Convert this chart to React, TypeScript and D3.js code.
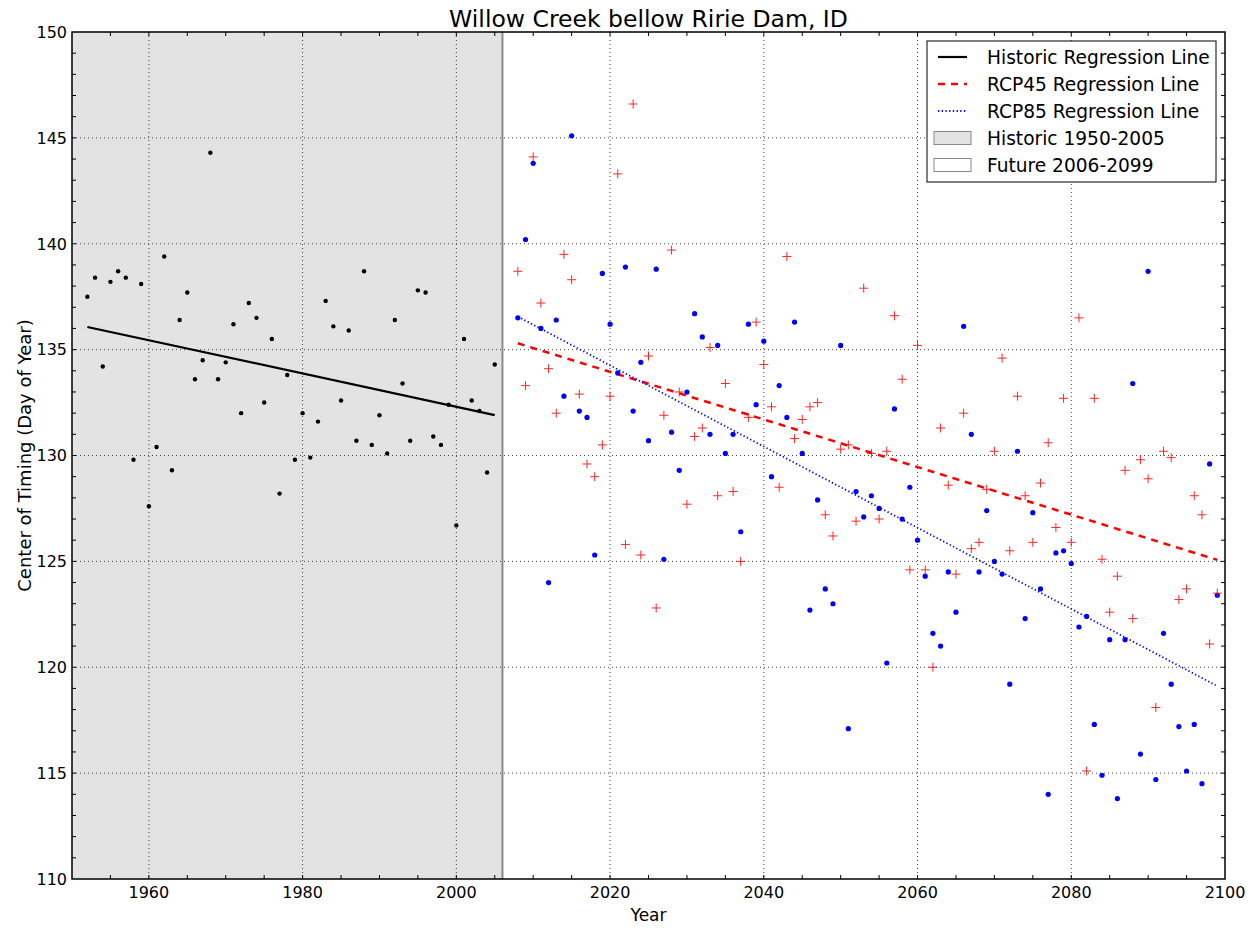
import React from 'react';
import * as d3 from 'd3';

// ---------- DATA ----------
const historicStartYear = 1952;
const historicValues = [
  137.5, 138.4, 134.2, 138.2, 138.7, 138.4, 129.8, 138.1, 127.6, 130.4,
  139.4, 129.3, 136.4, 137.7, 133.6, 134.5, 144.3, 133.6, 134.4, 136.2,
  132.0, 137.2, 136.5, 132.5, 135.5, 128.2, 133.8, 129.8, 132.0, 129.9,
  131.6, 137.3, 136.1, 132.6, 135.9, 130.7, 138.7, 130.5, 131.9, 130.1,
  136.4, 133.4, 130.7, 137.8, 137.7, 130.9, 130.5, 132.4, 126.7, 135.5,
  132.6, 132.1, 129.2, 134.3,
];

const futureStartYear = 2008;
const rcp45Values = [
  138.7, 133.3, 144.1, 137.2, 134.1, 132.0, 139.5, 138.3, 132.9, 129.6,
  129.0, 130.5, 132.8, 143.3, 125.8, 146.6, 125.3, 134.7, 122.8, 131.9,
  139.7, 133.0, 127.7, 130.9, 131.3, 135.1, 128.1, 133.4, 128.3, 125.0,
  131.8, 136.3, 134.3, 132.3, 128.5, 139.4, 130.8, 131.7, 132.3, 132.5,
  127.2, 126.2, 130.3, 130.5, 126.9, 137.9, 130.1, 127.0, 130.2, 136.6,
  133.6, 124.6, 135.2, 124.6, 120.0, 131.3, 128.6, 124.4, 132.0, 125.6,
  125.9, 128.4, 130.2, 134.6, 125.5, 132.8, 128.1, 125.9, 128.7, 130.6,
  126.6, 132.7, 125.9, 136.5, 115.1, 132.7, 125.1, 122.6, 124.3, 129.3,
  122.3, 129.8, 128.9, 118.1, 130.2, 129.9, 123.2, 123.7, 128.1, 127.2,
  121.1, 123.5,
];
const rcp85Values = [
  136.5, 140.2, 143.8, 136.0, 124.0, 136.4, 132.8, 145.1, 132.1, 131.8,
  125.3, 138.6, 136.2, 133.9, 138.9, 132.1, 134.4, 130.7, 138.8, 125.1,
  131.1, 129.3, 133.0, 136.7, 135.6, 131.0, 135.2, 130.1, 131.0, 126.4,
  136.2, 132.4, 135.4, 129.0, 133.3, 131.8, 136.3, 130.1, 122.7, 127.9,
  123.7, 123.0, 135.2, 117.1, 128.3, 127.1, 128.1, 127.5, 120.2, 132.2,
  127.0, 128.5, 126.0, 124.3, 121.6, 121.0, 124.5, 122.6, 136.1, 131.0,
  124.5, 127.4, 125.0, 124.4, 119.2, 130.2, 122.3, 127.3, 123.7, 114.0,
  125.4, 125.5, 124.9, 121.9, 122.4, 117.3, 114.9, 121.3, 113.8, 121.3,
  133.4, 115.9, 138.7, 114.7, 121.6, 119.2, 117.2, 115.1, 117.3, 114.5,
  129.6, 123.4,
];

// regression line end points [year, value]
const historicRegression: [number, number][] = [[1952, 136.07], [2005, 131.91]];
const rcp45Regression: [number, number][] = [[2008, 135.3], [2099, 125.07]];
const rcp85Regression: [number, number][] = [[2008, 136.56], [2099, 119.11]];

const historicSpan = [1950, 2006];
const xDomain = [1950, 2100];
const yDomain = [110, 150];
const xTickLabels = [1960, 1980, 2000, 2020, 2040, 2060, 2080, 2100];
const yTickLabels = [110, 115, 120, 125, 130, 135, 140, 145, 150];

const title = 'Willow Creek bellow Ririe Dam, ID';
const xLabel = 'Year';
const yLabel = 'Center of Timing (Day of Year)';
const legendItems = [
  'Historic Regression Line',
  'RCP45 Regression Line',
  'RCP85 Regression Line',
  'Historic 1950-2005',
  'Future 2006-2099',
];

// ---------- LAYOUT ----------
const W = 1251;
const H = 929;
const L = 72, R = 1225, T = 32, B = 879;
const FONT = '"DejaVu Sans", Verdana, sans-serif';

export default function App() {
  const x = d3.scaleLinear().domain(xDomain).range([L, R]);
  const y = d3.scaleLinear().domain(yDomain).range([B, T]);
  const line = d3.line<[number, number]>().x(d => x(d[0])).y(d => y(d[1]));

  const hist = historicValues.map((v, i) => [historicStartYear + i, v] as [number, number]);
  const r45 = rcp45Values.map((v, i) => [futureStartYear + i, v] as [number, number]);
  const r85 = rcp85Values.map((v, i) => [futureStartYear + i, v] as [number, number]);

  const xGrid = xTickLabels.filter(t => t > xDomain[0] && t < xDomain[1]);
  const yGrid = yTickLabels.filter(t => t > yDomain[0] && t < yDomain[1]);
  const xMinor = d3.range(xDomain[0] + 5, xDomain[1], 5);
  const yMinor = d3.range(yDomain[0] + 1, yDomain[1], 1);
  const tickLen = 4;

  const legX = 927, legY = 41, legW = 289, legH = 141;
  const rowY = (i: number) => legY + 16 + i * 27;

  return (
    <svg width={W} height={H} style={{ position: 'absolute', left: 0, top: 0, background: '#fff' }}
      fontFamily={FONT}>
      <rect x={0} y={0} width={W} height={H} fill="#fff" />
      {/* historic span */}
      <rect x={x(historicSpan[0])} y={T} width={x(historicSpan[1]) - x(historicSpan[0])} height={B - T}
        fill="#e3e3e3" />
      {/* grid */}
      <g stroke="#444" strokeWidth={1} strokeDasharray="1,3">
        {xGrid.map(t => <line key={'gx' + t} x1={x(t)} x2={x(t)} y1={T} y2={B} />)}
        {yGrid.map(t => <line key={'gy' + t} x1={L} x2={R} y1={y(t)} y2={y(t)} />)}
      </g>
      {/* boundary of historic span */}
      <line x1={x(historicSpan[1])} x2={x(historicSpan[1])} y1={T} y2={B} stroke="#8a8a8a" strokeWidth={2} />

      {/* regression lines */}
      <path d={line(historicRegression) || ''} fill="none" stroke="#000" strokeWidth={2.2} />
      <path d={line(rcp45Regression) || ''} fill="none" stroke="#ff0000" strokeWidth={2.5} strokeDasharray="7,6" />
      <path d={line(rcp85Regression) || ''} fill="none" stroke="#0000ff" strokeWidth={1.8} strokeDasharray="1.3,2.4" />

      {/* historic points */}
      <g fill="#000">
        {hist.map(d => <circle key={'h' + d[0]} cx={x(d[0])} cy={y(d[1])} r={2.2} />)}
      </g>
      {/* rcp85 points */}
      <g fill="#0000ff">
        {r85.map(d => <circle key={'b' + d[0]} cx={x(d[0])} cy={y(d[1])} r={2.6} />)}
      </g>
      {/* rcp45 points */}
      <g stroke="#ff0000" strokeWidth={1} opacity={0.85}>
        {r45.map(d => (
          <g key={'r' + d[0]}>
            <line x1={x(d[0]) - 4.5} x2={x(d[0]) + 4.5} y1={y(d[1])} y2={y(d[1])} />
            <line x1={x(d[0])} x2={x(d[0])} y1={y(d[1]) - 4.5} y2={y(d[1]) + 4.5} />
          </g>
        ))}
      </g>

      {/* ticks */}
      <g stroke="#000" strokeWidth={1}>
        {xMinor.map(t => (
          <g key={'xt' + t}>
            <line x1={x(t)} x2={x(t)} y1={B} y2={B - tickLen} />
            <line x1={x(t)} x2={x(t)} y1={T} y2={T + tickLen} />
          </g>
        ))}
        {yMinor.map(t => (
          <g key={'yt' + t}>
            <line x1={L} x2={L + tickLen} y1={y(t)} y2={y(t)} />
            <line x1={R} x2={R - tickLen} y1={y(t)} y2={y(t)} />
          </g>
        ))}
      </g>
      {/* spines */}
      <rect x={L} y={T} width={R - L} height={B - T} fill="none" stroke="#000" strokeWidth={1.5} />

      {/* tick labels */}
      <g fontSize={16} fill="#000">
        {xTickLabels.map(t => (
          <text key={'xl' + t} x={x(t)} y={B + 19} textAnchor="middle">{t}</text>
        ))}
        {yTickLabels.map(t => (
          <text key={'yl' + t} x={L - 5} y={y(t)} dy="0.36em" textAnchor="end">{t}</text>
        ))}
      </g>

      {/* axis labels & title */}
      <text x={(L + R) / 2} y={921} textAnchor="middle" fontSize={17}>{xLabel}</text>
      <text transform={`translate(31,${(T + B) / 2}) rotate(-90)`} textAnchor="middle" fontSize={18}>{yLabel}</text>
      <text x={(L + R) / 2} y={27} textAnchor="middle" fontSize={23.5}>{title}</text>

      {/* legend */}
      <g>
        <rect x={legX} y={legY} width={legW} height={legH} fill="#fff" stroke="#000" strokeWidth={1} />
        <line x1={938} x2={967} y1={rowY(0)} y2={rowY(0)} stroke="#000" strokeWidth={2.2} />
        <line x1={938} x2={967} y1={rowY(1)} y2={rowY(1)} stroke="#ff0000" strokeWidth={2.5} strokeDasharray="7,6" />
        <line x1={938} x2={967} y1={rowY(2)} y2={rowY(2)} stroke="#0000ff" strokeWidth={1.8} strokeDasharray="1.3,2.4" />
        <rect x={934} y={rowY(3) - 6.5} width={37} height={13} fill="#e3e3e3" stroke="#888" strokeWidth={1} />
        <rect x={934} y={rowY(4) - 6.5} width={37} height={13} fill="#fff" stroke="#888" strokeWidth={1} />
        {legendItems.map((s, i) => (
          <text key={s} x={987} y={rowY(i)} dy="0.36em" fontSize={18.6} fill="#000">{s}</text>
        ))}
      </g>
    </svg>
  );
}
